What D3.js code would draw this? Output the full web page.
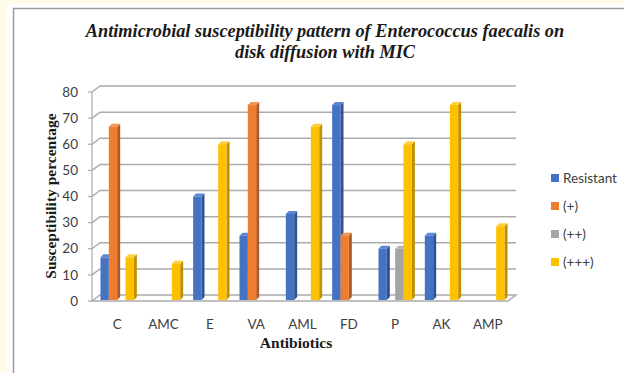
<!DOCTYPE html>
<html>
<head>
<meta charset="utf-8">
<script src="https://cdn.jsdelivr.net/npm/d3@7"></script>
<style>
  html, body { margin: 0; padding: 0; background: #fffbe6; }
  svg { display: block; }
</style>
</head>
<body>
<script>
// Antibiotics tested and the share of isolates in each susceptibility class
const categories = ["C", "AMC", "E", "VA", "AML", "FD", "P", "AK", "AMP"];
const seriesNames = ["Resistant", "(+)", "(++)", "(+++)"];
const resistant = [16.7, 0, 40, 25, 33.3, 75, 20, 25, 0];
const plus1 = [66.7, 0, 0, 75, 0, 25, 0, 0, 0];
const plus2 = [0, 0, 0, 0, 0, 0, 20, 0, 0];
const plus3 = [16.7, 14.3, 60, 0, 66.7, 0, 60, 75, 28.6];
const yTicks = [0, 10, 20, 30, 40, 50, 60, 70, 80];

const seriesValues = [resistant, plus1, plus2, plus3];
const fronts = ["#4472c4", "#ed7d31", "#a5a5a5", "#ffc000"];
const sides = ["#2f528f", "#ae5a21", "#7c7c7c", "#bf9000"];
const tops = ["#5a86d6", "#f49252", "#b8b8b8", "#ffcf40"];

const W = 624, H = 373;
const svg = d3.select("body").append("svg").attr("width", W).attr("height", H);

// white chart panel
svg.append("rect").attr("x", 7).attr("y", 4).attr("width", W).attr("height", H)
  .attr("fill", "#ffffff");
svg.append("rect").attr("x", 13.5).attr("y", 8.5).attr("width", W).attr("height", H)
  .attr("fill", "#ffffff").attr("stroke", "#9a9a9a").attr("stroke-width", 1.5);

// title
const title = svg.append("text").attr("text-anchor", "middle")
  .attr("font-family", "'Liberation Serif', 'Times New Roman', serif")
  .attr("font-weight", "bold").attr("font-style", "italic")
  .attr("font-size", 18.3).attr("fill", "#1a1a1a");
title.append("tspan").attr("x", 325).attr("y", 37)
  .text("Antimicrobial susceptibility pattern of Enterococcus faecalis on");
title.append("tspan").attr("x", 325).attr("y", 58).text("disk diffusion with MIC");

// plot geometry: front plane and depth of the 3D box
const x0 = 92, x1 = 508, dX = 8, dY = -6;
const y = d3.scaleLinear().domain([0, 80]).range([301, 92]);
const x = d3.scaleBand().domain(categories).range([94, 511]).padding(0);
const xs = d3.scaleBand().domain(seriesNames)
  .range([0, x.bandwidth() * 0.72]).padding(0);
const groupOffset = x.bandwidth() * 0.14;

const gridColor = "#ababab";

// floor
svg.append("path")
  .attr("d", `M${x0},${y(0)} L${x1},${y(0)} L${x1 + dX},${y(0) + dY} L${x0 + dX},${y(0) + dY} Z`)
  .attr("fill", "#ffffff").attr("stroke", gridColor).attr("stroke-width", 1.5);

// gridlines across the side wall and back wall
svg.append("g").selectAll("path").data(yTicks.filter(t => t > 0)).join("path")
  .attr("d", t => `M${x0},${y(t)} L${x0 + dX},${y(t) + dY} L${x1 + dX},${y(t) + dY}`)
  .attr("fill", "none").attr("stroke", gridColor).attr("stroke-width", 1.5);

// vertical axis line and ticks
svg.append("line").attr("x1", x0).attr("x2", x0).attr("y1", y(80)).attr("y2", y(0))
  .attr("stroke", gridColor).attr("stroke-width", 1.2);
svg.append("g").selectAll("line").data(yTicks).join("line")
  .attr("x1", x0 - 4).attr("x2", x0).attr("y1", t => y(t)).attr("y2", t => y(t))
  .attr("stroke", gridColor).attr("stroke-width", 1.2);

// y tick labels
svg.append("g").selectAll("text").data(yTicks).join("text")
  .attr("x", 78).attr("y", t => y(t)).attr("dy", "0.35em")
  .attr("text-anchor", "end")
  .attr("font-family", "Lato, 'Open Sans', sans-serif").attr("font-size", 13.5)
  .attr("fill", "#404040").text(t => t);

// bars as simple extruded columns
const d = 3;
const bars = [];
categories.forEach((c, i) => {
  seriesNames.forEach((s, j) => {
    const v = seriesValues[j][i];
    if (v > 0) bars.push({ c, s, j, v });
  });
});
const bw = xs.bandwidth();
const bg = svg.append("g");
bars.forEach(b => {
  const bx = x(b.c) + groupOffset + xs(b.s);
  const yt = y(b.v), yb = y(0) - 1;
  const g = bg.append("g");
  g.append("path")
    .attr("d", `M${bx + bw},${yt} L${bx + bw + d},${yt - d} L${bx + bw + d},${yb - d} L${bx + bw},${yb} Z`)
    .attr("fill", sides[b.j]);
  g.append("path")
    .attr("d", `M${bx},${yt} L${bx + d},${yt - d} L${bx + bw + d},${yt - d} L${bx + bw},${yt} Z`)
    .attr("fill", tops[b.j]);
  g.append("rect").attr("x", bx).attr("y", yt).attr("width", bw).attr("height", yb - yt)
    .attr("fill", fronts[b.j]);
});

// x tick labels
svg.append("g").selectAll("text").data(categories).join("text")
  .attr("x", c => x(c) + x.bandwidth() / 2).attr("y", 324).attr("dy", "0.35em")
  .attr("text-anchor", "middle")
  .attr("font-family", "Lato, 'Open Sans', sans-serif").attr("font-size", 13.5)
  .attr("fill", "#404040").text(c => c);

// axis titles
svg.append("text").attr("x", 296).attr("y", 348).attr("text-anchor", "middle")
  .attr("font-family", "'Liberation Serif', 'Times New Roman', serif")
  .attr("font-weight", "bold").attr("font-size", 15.5).attr("fill", "#1a1a1a")
  .text("Antibiotics");
svg.append("text").attr("transform", "translate(56,196) rotate(-90)")
  .attr("text-anchor", "middle")
  .attr("font-family", "'Liberation Serif', 'Times New Roman', serif")
  .attr("font-weight", "bold").attr("font-size", 15.5).attr("fill", "#1a1a1a")
  .text("Susceptibility percentage");

// legend
const lg = svg.append("g").selectAll("g").data(seriesNames).join("g")
  .attr("transform", (s, i) => `translate(551,${178 + i * 28})`);
lg.append("rect").attr("x", 0).attr("y", -4).attr("width", 8).attr("height", 8)
  .attr("fill", (s, i) => fronts[i]);
lg.append("text").attr("x", 12).attr("y", 0).attr("dy", "0.35em")
  .attr("font-family", "Lato, 'Open Sans', sans-serif").attr("font-size", 13.5)
  .attr("fill", "#404040").text(s => s);
</script>
</body>
</html>
